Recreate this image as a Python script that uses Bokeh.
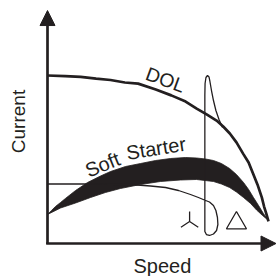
import numpy as np
from bokeh.plotting import figure
from bokeh.models import Range1d, Arrow, NormalHead
from bokeh.core.properties import value
from bokeh.embed import file_html
from bokeh.resources import INLINE

# Speed in % of synchronous speed, current in % of rated current
speed_dol = [0, 8, 15, 22, 28.5, 35, 41, 49, 56, 62.5, 67.5, 72, 76.5, 79.5, 82.5, 85.5,
             88.5, 91, 93, 95, 97, 98, 99, 100]
current_dol = [600, 598, 595, 589, 584, 575, 571, 550, 529, 507, 482, 461, 439, 418, 393, 361,
               321, 289, 250, 211, 164, 132, 107, 79]

speed_ss_upper = [0, 1.8, 3.6, 5.9, 8.1, 12.7, 18.1, 24.0, 28.5, 35.3, 42.1, 48.9, 55.7, 62.4,
                  67.4, 71.5, 75.1, 78.7, 82.4, 85.5, 88.7, 91.0, 93.2, 95.5, 97.7, 100]
current_ss_upper = [103.6, 117.9, 132.1, 146.4, 160.7, 189.3, 217.9, 241.1, 257.1, 275, 285.7,
                    296.4, 303.6, 307.1, 305.4, 301.8, 296.4, 285.7, 267.9, 246.4, 217.9, 192.9,
                    164.3, 135.7, 107.1, 82.1]
speed_ss_lower = [0, 5.9, 12.7, 19.5, 26.2, 33.0, 42.1, 51.1, 60.2, 67.4, 75.1, 78.7, 82.4, 85.5,
                  88.7, 91.9, 94.6, 97.3, 100]
current_ss_lower = [103.6, 126.8, 144.6, 164.3, 182.1, 196.4, 210.7, 221.4, 226.8, 228.6, 221.4,
                    212.5, 200, 183.9, 164.3, 142.9, 119.6, 100, 82.1]

speed_star = [0, 19.5, 37.6, 46.6, 53.4, 59.3, 64.7, 68.3, 71.0, 73.3, 75.1, 76.2, 76.9, 77.1,
              76.5, 75.1, 73.3, 71.9, 71.2, 71.2, 71.3, 71.7, 72.4, 73.1, 73.5, 74.2, 75.1,
              76.2, 77.6, 79.2]
current_star = [212.5, 212.5, 210.7, 205.4, 200, 189.3, 175, 164.3, 155.4, 148.2, 135.7, 117.9,
                92.9, 67.9, 46.4, 33.9, 28.6, 32.1, 42.9, 528.6, 571.4, 592.9, 600, 594.6,
                578.6, 546.4, 510.7, 475, 442.9, 414.3]

INK = "#231f20"
FONT = value("Liberation Sans")

W, H = 278, 276
p = figure(width=W, height=H, output_backend="svg", toolbar_location=None,
           x_range=Range1d((0 - 47) / 2.21, (W - 47) / 2.21),
           y_range=Range1d((243 - H) / 0.28, (243 - 0) / 0.28),
           min_border=0, x_axis_location=None, y_axis_location=None,
           outline_line_color=None, background_fill_color="white",
           border_fill_color="white")
p.grid.visible = False

# soft starter band
p.patch(x=speed_ss_upper + speed_ss_lower[::-1], y=current_ss_upper + current_ss_lower[::-1],
        fill_color=INK, line_color=INK, line_width=0.8)

# star/delta curve
p.line(x=speed_star, y=current_star, line_color=INK, line_width=1.3)

# DOL
p.line(x=speed_dol, y=current_dol, line_color=INK, line_width=2.7)

# axes with arrows
p.add_layout(Arrow(end=NormalHead(size=15, fill_color=INK, line_color=INK, line_width=1),
                   x_start=0, y_start=-1.5, x_end=0, y_end=832,
                   line_color=INK, line_width=2.7))
p.add_layout(Arrow(end=NormalHead(size=15, fill_color=INK, line_color=INK, line_width=1),
                   x_start=-0.6, y_start=0, x_end=103.4, y_end=0,
                   line_color=INK, line_width=2.7))

# star and delta symbols
p.scatter(x=[64.3], y=[78.6], marker="y", size=20, angle=np.pi,
          line_color=INK, line_width=1.3)
p.scatter(x=[85.5], y=[73.2], marker="triangle", size=20, fill_color=None,
          line_color=INK, line_width=1.3)

# labels
p.text(x=[-13.1], y=[435.7], text=["Current"], angle=90, angle_units="deg",
       text_align="center", text_baseline="middle", text_font=FONT,
       text_font_size="19px", text_color=INK)
p.text(x=[52.0], y=[-78.6], text=["Speed"], text_align="center",
       text_baseline="middle", text_font=FONT, text_font_size="20px", text_color=INK)
p.text(x=[53.4], y=[585.7], text=["DOL"], angle=-20, angle_units="deg",
       text_align="center", text_baseline="middle", text_font=FONT,
       text_font_size="19.5px", text_color=INK)
p.text(x=[24.9], y=[282.1], text=["Soft"], angle=22, angle_units="deg",
       text_align="center", text_baseline="middle", text_font=FONT,
       text_font_size="20px", text_color=INK)
p.text(x=[49.1], y=[340], text=["Starter"], angle=9, angle_units="deg",
       text_align="center", text_baseline="middle", text_font=FONT,
       text_font_size="20px", text_color=INK)

open("out.html", "w").write(file_html(p, INLINE))
